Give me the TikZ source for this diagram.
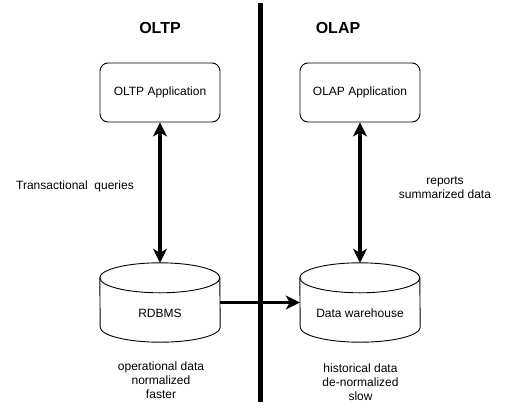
\documentclass[tikz,border=0pt]{standalone}
\usepackage{fontspec}
\setmainfont{Liberation Sans}
\usetikzlibrary{arrows.meta,backgrounds}
\tikzset{
  x=1pt, y=-1pt,
  every node/.style={font=\fontsize{12}{14}\selectfont, align=center, inner sep=0pt},
  title/.style={font=\fontsize{16}{18}\selectfont\bfseries},
  appbox/.style={draw, line width=0.9pt, rounded corners=8pt, minimum width=120pt, minimum height=59pt},
  dbbox/.style={minimum width=120pt, minimum height=79pt},
  cylline/.style={draw, fill=white, line width=0.9pt},
  arr/.style={line width=3.5pt, {Stealth[length=14pt,width=14pt,inset=4pt]}-{Stealth[length=14pt,width=14pt,inset=4pt]}},
  onearr/.style={line width=3.5pt, -{Stealth[length=14pt,width=14pt,inset=4pt]}},
  divider/.style={line width=5pt}
}
\newcommand{\mycyl}[1]{%
  \path[cylline] ([yshift=-15pt]#1.north west) arc[start angle=180, end angle=0, x radius=60pt, y radius=15pt]
    -- ([yshift=15pt]#1.south east) arc[start angle=0, end angle=-180, x radius=60pt, y radius=15pt] -- cycle;
  \path[cylline] ([yshift=-15pt]#1.north west) arc[start angle=180, end angle=360, x radius=60pt, y radius=15pt];
}
\begin{document}
\begin{tikzpicture}
\useasboundingbox (0,0) rectangle (521,417);

% divider
\coordinate (dtop) at (260,3);
\coordinate (dbot) at (260,402);
\draw[divider] (dtop) -- (dbot);

% titles
\node[title] (toltp) at (160,28) {OLTP};
\node[title] (tolap) at (338,28) {OLAP};

% applications
\node[appbox] (app1) at (160,92.5) {OLTP Application};
\node[appbox] (app2) at (360,92.5) {OLAP Application};

% databases
\node[dbbox, label={[yshift=-10.5pt]center:RDBMS}] (db1) at (160,302.5) {};
\node[dbbox, label={[yshift=-10.5pt]center:Data warehouse}] (db2) at (360,302.5) {};
\begin{pgfonlayer}{background}
\mycyl{db1}
\mycyl{db2}
\end{pgfonlayer}

% connectors
\draw[arr] (app1.south) -- (db1.north);
\draw[arr] (app2.south) -- (db2.north);
\draw[onearr] (db1.east) -- (db2.west);

% labels
\node (lq) at (75,186.5) {Transactional\ \ queries};
\node (lr) at (445,187.5) {reports\\summarized data};
\node (lo) at (161,380) {operational data\\normalized\\faster};
\node (lh) at (360.5,382) {historical data\\de-normalized\\slow};
\end{tikzpicture}
\end{document}
